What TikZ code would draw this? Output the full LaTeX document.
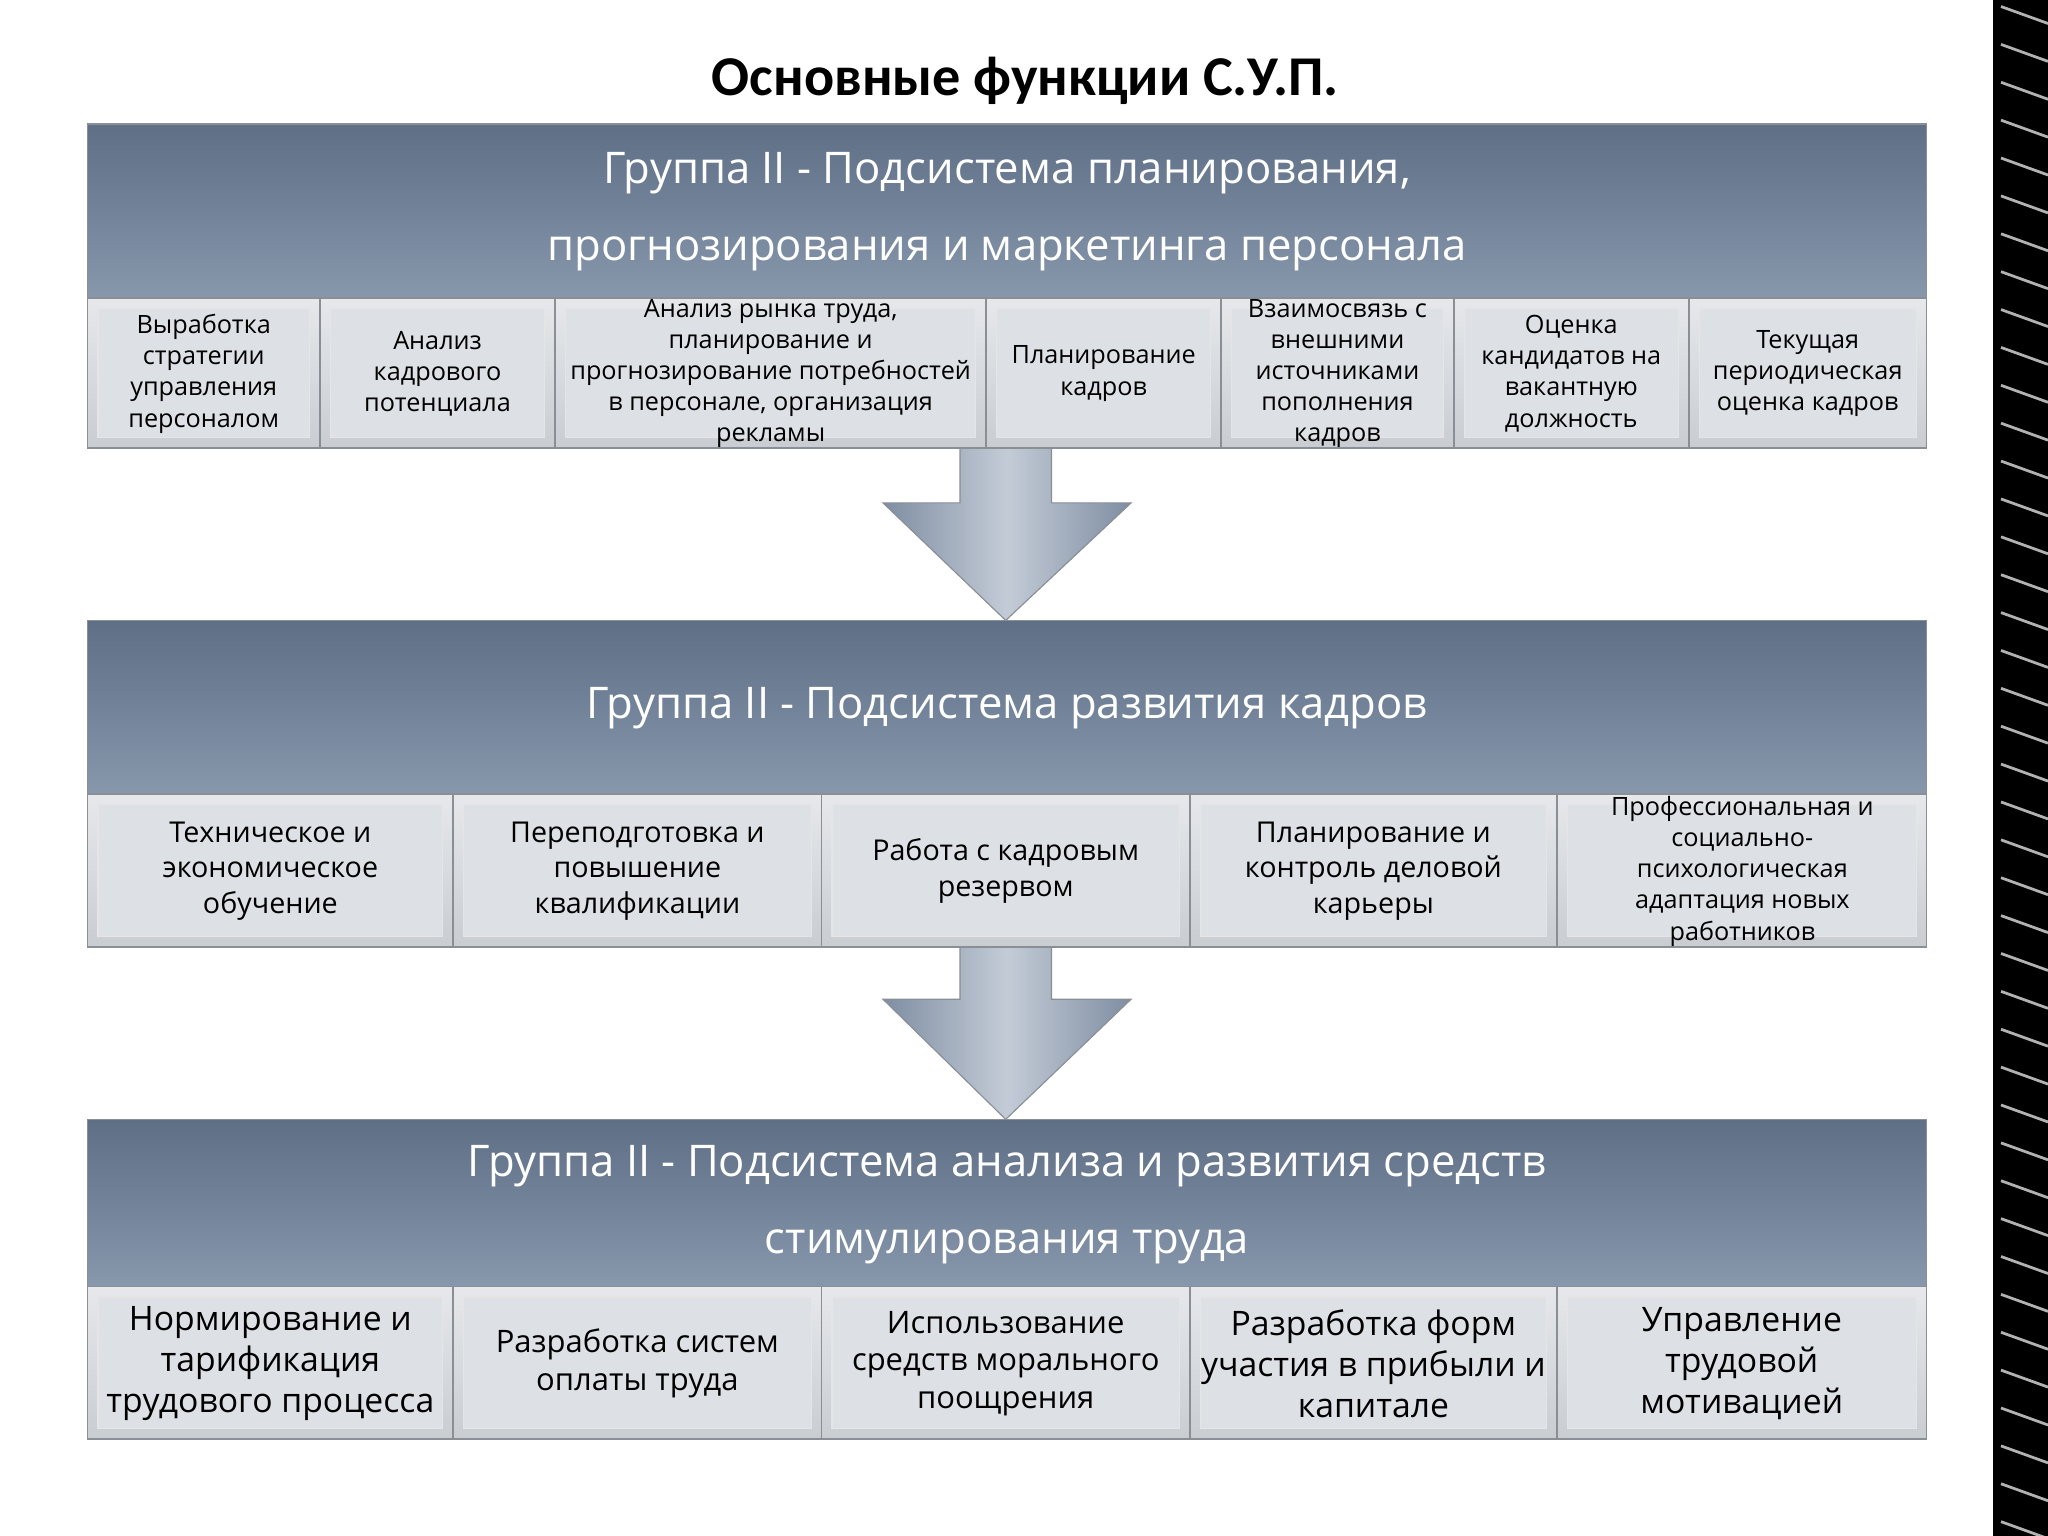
\documentclass[tikz,border=0pt]{standalone}
\usepackage{fontspec}
\setmainfont{Open Sans}
\newfontfamily\titlefont{Carlito}
\definecolor{hdrtop}{HTML}{5E6F86}
\definecolor{hdrbot}{HTML}{8797AC}
\definecolor{celltop}{HTML}{E6E8EB}
\definecolor{cellbot}{HTML}{C9CDD2}
\definecolor{cellbd}{HTML}{8A8F96}
\definecolor{arrtop}{HTML}{7F8EA3}
\definecolor{arrbot}{HTML}{C3CBD6}
\tikzset{
 hdr/.style={draw=cellbd,line width=0.6pt,top color=hdrtop,bottom color=hdrbot},
 hdrtxt/.style={text=white,font=\fontsize{19}{33.5}\selectfont,align=center},
 cell/.style={draw=cellbd,line width=0.8pt,top color=celltop,bottom color=cellbot},
 inner/.style={draw=white!80!gray,line width=0.5pt,fill=celltop!70!cellbot},
 ctxt/.style={font=\fontsize{11}{13.6}\selectfont,align=center,text=black},
 arr/.style={left color=arrtop,right color=arrtop,middle color=arrbot,draw=cellbd,line width=0.5pt}
}
\begin{document}
\begin{tikzpicture}[x=0.02cm,y=-0.02cm]
\useasboundingbox (0,0) rectangle (1568,1176);
\fill[white] (0,0) rectangle (1568,1176);
\fill[black] (1518,0) rectangle (1568,1176);
\foreach \i in {0,...,40}{\draw[gray!60,line width=1.2pt] (1532,{\i*29+5}) -- (1568,{\i*29+18});}
\fill[white] (1518,0) rectangle (1526,1176);
\node[font=\titlefont\bfseries\fontsize{24.5}{28}\selectfont] (title) at (785,62) {Основные функции С.У.П.};
\draw[arr] (735,343) -- (805,343) -- (805,385) -- (866,385) -- (770,475) -- (676,385) -- (735,385) -- cycle;
\draw[arr] (735,725) -- (805,725) -- (805,765) -- (866,765) -- (770,857) -- (676,765) -- (735,765) -- cycle;
% block 1
\fill[hdr] (67,95) rectangle (1475,228);
\node[hdrtxt] (h1) at (771,162) {Группа II - Подсистема планирования,\\прогнозирования и маркетинга персонала};
\foreach \a/\b/\n/\t in {67/245/c1/{Выработка\\стратегии\\управления\\персоналом},245/425/c2/{Анализ\\кадрового\\потенциала},425/755/c3/{Анализ рынка труда,\\планирование и\\прогнозирование потребностей\\в персонале, организация\\рекламы},755/935/c4/{Планирование\\кадров},935/1113/c5/{Взаимосвязь с\\внешними\\источниками\\пополнения\\кадров},1113/1293/c6/{Оценка\\кандидатов на\\вакантную\\должность},1293/1475/c7/{Текущая\\периодическая\\оценка кадров}}{
 \fill[cell] (\a,228) rectangle (\b,343);
 \fill[inner] (\a+8,236) rectangle (\b-8,335);
 \node[ctxt] (\n) at ({(\a+\b)/2},286) {\t};}
% block 2
\fill[hdr] (67,475) rectangle (1475,608);
\node[hdrtxt] (h2) at (771,542) {Группа II - Подсистема развития кадров};
\foreach \a/\b/\n/\t in {67/347/d1/{Техническое и\\экономическое\\обучение},347/629/d2/{Переподготовка и\\повышение\\квалификации},629/911/d3/{Работа с кадровым\\резервом},911/1192/d4/{Планирование и\\контроль деловой\\карьеры}}{
 \fill[cell] (\a,608) rectangle (\b,725);
 \fill[inner] (\a+8,616) rectangle (\b-8,717);
 \node[ctxt,font=\fontsize{12.5}{15.5}\selectfont] (\n) at ({(\a+\b)/2},667) {\t};}
\fill[cell] (1192,608) rectangle (1475,725);
\fill[inner] (1200,616) rectangle (1467,717);
\node[ctxt] (d5) at (1334,667) {Профессиональная и\\социально-\\психологическая\\адаптация новых\\работников};
% block 3
\fill[hdr] (67,857) rectangle (1475,985);
\node[hdrtxt] (h3) at (771,922) {Группа II - Подсистема анализа и развития средств\\стимулирования труда};
\foreach \a/\b/\n/\t/\s/\l in {67/347/e1/{Нормирование и\\тарификация\\трудового процесса}/14.7/18,347/629/e2/{Разработка систем\\оплаты труда}/13.5/16.5,629/911/e3/{Использование\\средств морального\\поощрения}/13.5/16.5,911/1192/e4/{Разработка форм\\участия в прибыли и\\капитале}/14.7/18,1192/1475/e5/{Управление\\трудовой\\мотивацией}/14.7/18}{
 \fill[cell] (\a,985) rectangle (\b,1102);
 \fill[inner] (\a+8,993) rectangle (\b-8,1094);
 \node[ctxt,font=\fontsize{\s pt}{\l pt}\selectfont] (\n) at ({(\a+\b)/2},1044) {\t};}
\end{tikzpicture}
\end{document}
